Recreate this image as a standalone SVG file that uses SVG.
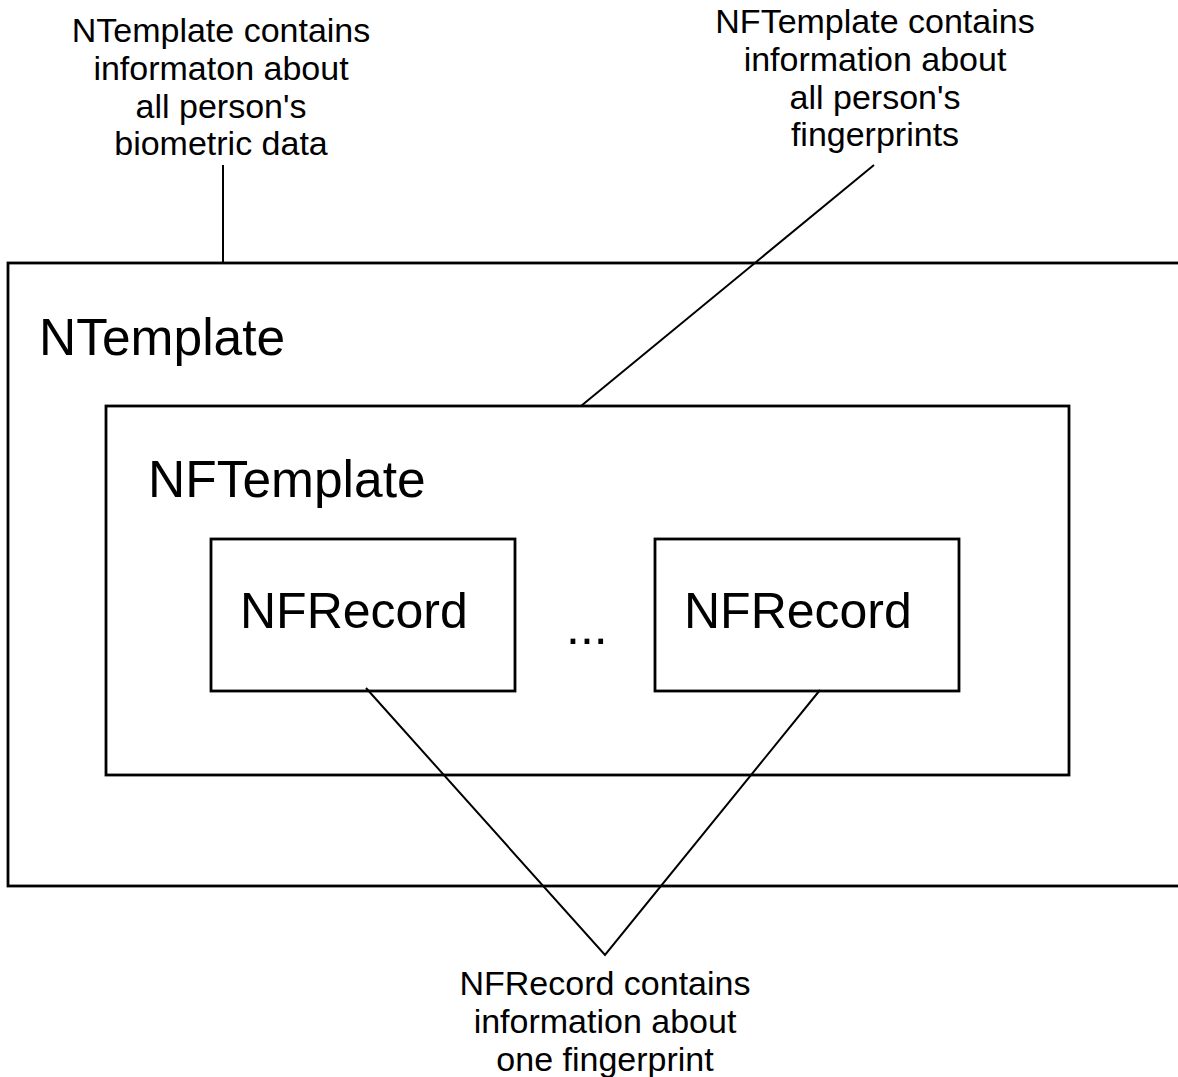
<svg xmlns="http://www.w3.org/2000/svg" width="1178" height="1077" viewBox="0 0 1178 1077">
<style>
.box{fill:none;stroke:#000;stroke-width:2.8}
.ln{fill:none;stroke:#000;stroke-width:2}
.lbl{font-family:"Liberation Sans",Arial,sans-serif;font-size:34px;fill:#000;text-anchor:middle}
.big{font-family:"Liberation Sans",Arial,sans-serif;font-size:50px;fill:#000}
.big2{font-family:"Liberation Sans",Arial,sans-serif;font-size:51.5px;fill:#000}
</style>
<rect width="1178" height="1077" fill="#fff"/>
<g id="ntemplate">
<rect class="box" x="8" y="263" width="1190" height="623"/>
<text class="big2" x="39" y="355">NTemplate</text>
</g>
<g id="nftemplate">
<rect class="box" x="106" y="406" width="963" height="369"/>
<text class="big2" x="148" y="497">NFTemplate</text>
</g>
<g id="nfrecord1">
<rect class="box" x="211" y="539" width="304" height="152"/>
<text class="big" x="240" y="628">NFRecord</text>
</g>
<g id="ellipsis">
<text class="big" x="566" y="644">...</text>
</g>
<g id="nfrecord2">
<rect class="box" x="655" y="539" width="304" height="152"/>
<text class="big" x="684" y="628">NFRecord</text>
</g>
<g id="note-ntemplate">
<text class="lbl" x="221" y="42">NTemplate contains</text>
<text class="lbl" x="221" y="80">informaton about</text>
<text class="lbl" x="221" y="118">all person's</text>
<text class="lbl" x="221" y="155">biometric data</text>
</g>
<g id="note-nftemplate">
<text class="lbl" x="875" y="33">NFTemplate contains</text>
<text class="lbl" x="875" y="71">information about</text>
<text class="lbl" x="875" y="109">all person's</text>
<text class="lbl" x="875" y="146">fingerprints</text>
</g>
<g id="note-nfrecord">
<text class="lbl" x="605" y="995">NFRecord contains</text>
<text class="lbl" x="605" y="1033">information about</text>
<text class="lbl" x="605" y="1071">one fingerprint</text>
</g>
<g id="connectors">
<line class="ln" x1="223" y1="165" x2="223" y2="263"/>
<line class="ln" x1="874" y1="165" x2="581" y2="406"/>
<polyline class="ln" points="366,688 605,955 820,690"/>
</g>
</svg>
